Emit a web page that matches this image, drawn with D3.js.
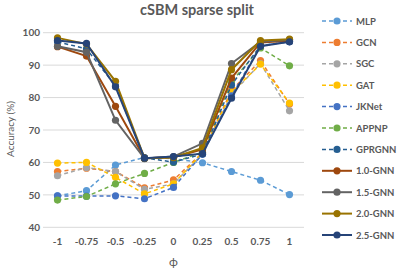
<!DOCTYPE html>
<meta charset="utf-8">
<style>
body { margin: 0; background: #fff; }
text { font-family: Lato, "Open Sans", sans-serif; fill: #595959; }
.grid line { stroke: #d9d9d9; stroke-width: 1px; }
</style>
<body>
<script src="https://d3js.org/d3.v7.min.js"></script>
<script>

// categories (phi) and y ticks
var phis = ["-1", "-0.75", "-0.5", "-0.25", "0", "0.25", "0.5", "0.75", "1"];
var yTicks = [40, 50, 60, 70, 80, 90, 100];

// accuracy per method
var mlp    = [49.7, 51.3, 59.2, 61.5, 61.2, 59.9, 57.2, 54.5, 50.1];
var gcn    = [57.2, 58.2, 57.2, 52.2, 54.6, 63.0, 82.2, 91.4, 78.0];
var sgc    = [55.9, 58.4, 57.2, 51.7, 53.4, 62.6, 81.0, 90.5, 75.9];
var gat    = [59.8, 60.0, 55.4, 50.3, 53.4, 63.0, 81.6, 90.3, 78.3];
var jknet  = [49.7, 49.6, 49.7, 48.8, 52.3, 62.5, 80.5, 96.0, 97.2];
var appnp  = [48.4, 49.5, 53.4, 56.6, 60.0, 63.2, 84.9, 95.3, 89.8];
var gprgnn = [97.2, 95.0, 83.6, 61.4, 60.1, 62.6, 83.9, 96.0, 97.3];
var gnn10  = [95.7, 92.8, 77.3, 61.3, 61.6, 64.0, 86.0, 97.0, 97.5];
var gnn15  = [95.8, 94.0, 73.0, 61.2, 61.8, 65.9, 90.5, 97.2, 97.8];
var gnn20  = [98.4, 96.5, 85.0, 61.3, 61.5, 64.5, 88.6, 97.6, 98.0];
var gnn25  = [97.6, 96.7, 83.3, 61.3, 61.8, 62.7, 79.8, 95.8, 97.2];

var series = [
  {name: "MLP",     values: mlp,    color: "#5B9BD5", dash: true},
  {name: "GCN",     values: gcn,    color: "#ED7D31", dash: true},
  {name: "SGC",     values: sgc,    color: "#A5A5A5", dash: true},
  {name: "GAT",     values: gat,    color: "#FFC000", dash: true},
  {name: "JKNet",   values: jknet,  color: "#4472C4", dash: true},
  {name: "APPNP",   values: appnp,  color: "#70AD47", dash: true},
  {name: "GPRGNN",  values: gprgnn, color: "#255E91", dash: true},
  {name: "1.0-GNN", values: gnn10,  color: "#9E480E", dash: false},
  {name: "1.5-GNN", values: gnn15,  color: "#636363", dash: false},
  {name: "2.0-GNN", values: gnn20,  color: "#997300", dash: false},
  {name: "2.5-GNN", values: gnn25,  color: "#264478", dash: false}
];

var W = 398, H = 270;
var plotL = 43, plotR = 304, plotT = 32.7, plotB = 227.3;

var svg = d3.select("body").append("svg")
    .attr("width", W)
    .attr("height", H);

var x = d3.scaleBand().domain(phis).range([plotL, plotR]);
var y = d3.scaleLinear().domain([40, 100]).range([plotB, plotT]);

// gridlines
svg.append("g").attr("class", "grid")
  .selectAll("line").data(yTicks).enter().append("line")
    .attr("x1", plotL).attr("x2", plotR)
    .attr("y1", function(d) { return y(d); })
    .attr("y2", function(d) { return y(d); });

// y axis labels
var yAxis = svg.append("g")
    .attr("transform", "translate(" + (plotL + 2) + ",0)")
    .call(d3.axisLeft(y).tickValues(yTicks).tickSize(0).tickPadding(5));
yAxis.select(".domain").remove();
yAxis.selectAll("text")
    .style("font-size", "10px").style("font-weight", "bold")
    .style("font-family", "Lato, 'Open Sans', sans-serif").attr("fill", "#595959");

// x axis labels
var xAxis = svg.append("g")
    .attr("transform", "translate(0," + plotB + ")")
    .call(d3.axisBottom(x).tickSize(0).tickPadding(11));
xAxis.select(".domain").remove();
xAxis.selectAll("text")
    .style("font-size", "10px").style("font-weight", "bold")
    .style("font-family", "Lato, 'Open Sans', sans-serif").attr("fill", "#595959");

// title and axis titles
svg.append("text")
    .attr("x", 197).attr("y", 15)
    .attr("text-anchor", "middle")
    .style("font-size", "14.5px").style("font-weight", "bold")
    .text("cSBM sparse split");

svg.append("text")
    .attr("transform", "translate(14,129) rotate(-90)")
    .attr("text-anchor", "middle")
    .style("font-size", "10px")
    .text("Accuracy (%)");

svg.append("text")
    .attr("x", (plotL + plotR) / 2).attr("y", 266)
    .attr("text-anchor", "middle")
    .style("font-size", "12px")
    .text("ϕ");

var line = d3.line()
    .x(function(d, i) { return x(phis[i]) + x.bandwidth() / 2; })
    .y(function(d) { return y(d); });

// series: line then markers, later ones on top
series.forEach(function(s) {
  var g = svg.append("g");
  g.append("path")
      .datum(s.values)
      .attr("fill", "none")
      .attr("stroke", s.color)
      .attr("stroke-width", s.dash ? 1.5 : 2)
      .attr("stroke-dasharray", s.dash ? "4,3" : null)
      .attr("d", line);
  g.selectAll("circle").data(s.values).enter().append("circle")
      .attr("cx", function(d, i) { return x(phis[i]) + x.bandwidth() / 2; })
      .attr("cy", function(d) { return y(d); })
      .attr("r", 3.6)
      .attr("fill", s.color);
});

// legend
var leg = svg.append("g");
series.forEach(function(s, i) {
  var ly = 21 + i * 21.4;
  leg.append("line")
      .attr("x1", 322).attr("x2", 352)
      .attr("y1", ly).attr("y2", ly)
      .attr("stroke", s.color)
      .attr("stroke-width", s.dash ? 1.5 : 2)
      .attr("stroke-dasharray", s.dash ? "4,3" : null);
  leg.append("circle")
      .attr("cx", 337).attr("cy", ly).attr("r", 3.6)
      .attr("fill", s.color);
  leg.append("text")
      .attr("x", 356).attr("y", ly + 3.5)
      .style("font-size", "9.5px").style("font-weight", "bold")
      .text(s.name);
});

</script>
</body>
